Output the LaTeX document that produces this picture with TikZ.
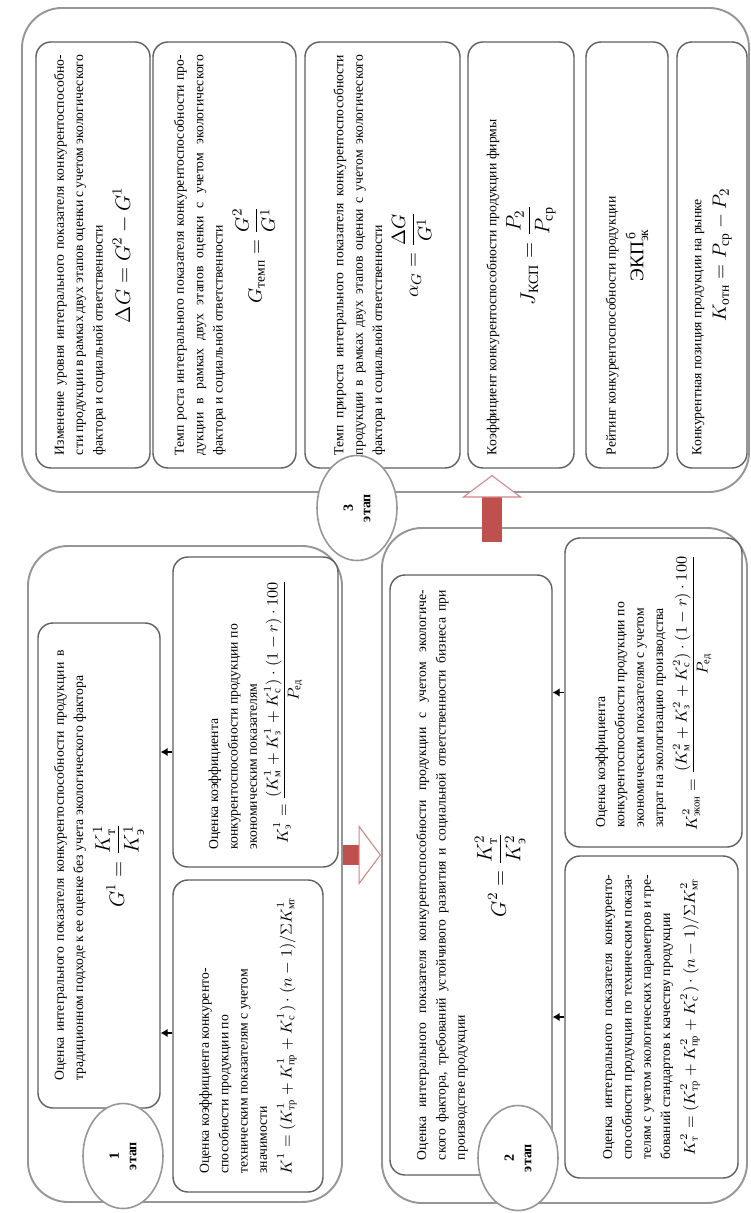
\documentclass[tikz,border=0pt]{standalone}
\usepackage{fontspec}
\setmainfont{Liberation Serif}
\usepackage{amsmath}
\usepackage{tikz}
\usetikzlibrary{arrows.meta, shapes.geometric, calc}
\definecolor{etred}{RGB}{192,80,77}
\definecolor{etgris}{RGB}{150,150,150}
\definecolor{etcard}{RGB}{95,95,95}
\hyphenation{кон-ку-рен-то-спо-соб-но-сти ин-те-граль-но-го по-ка-за-те-ля эко-ло-ги-че-ско-го
  эко-ло-ги-че-ских про-дук-ции по-ка-за-те-лям тре-бо-ва-ний стан-дар-тов}
\newcommand{\fml}[2][11]{\par\smallskip\hbox to\linewidth{\hss\fontsize{#1}{#1}\selectfont$\displaystyle #2$\hss}}

\begin{document}
\begin{tikzpicture}[x=1cm, y=-1cm,
  font=\fontsize{7.8}{11}\selectfont,
  stage/.style={rectangle, rounded corners=0.8cm, draw=etgris, line width=1.1pt},
  card/.style={rectangle, rounded corners=0.3cm, draw=etcard, line width=0.8pt, fill=white,
               rotate=90, align=justify, inner sep=0pt},
  badge/.style={ellipse, draw=etgris, line width=0.9pt, fill=white, rotate=90,
                minimum width=2.1cm, minimum height=1.6cm, align=center,
                font=\bfseries\fontsize{8}{10}\selectfont},
  link/.style={-{Latex[length=4pt, width=5pt]}, line width=0.8pt, black},
  flow/.style={line width=11pt, draw=etred,
               -{Triangle[length=0.45cm, width=1.2cm, line width=0.6pt, color=etred!70, fill=white]}}]

  \useasboundingbox (0,0) rectangle (15.02,24.26);

  % stage frames
  \node[stage, minimum width=14.54cm, minimum height=9.68cm] (st3) at (7.71,5.0) {};
  \node[stage, minimum width=6.28cm, minimum height=13.12cm] (st1) at (3.70,17.48) {};
  \node[stage, minimum width=7.30cm, minimum height=13.50cm] (st2) at (11.29,17.31) {};

  % stage 3 (cards are turned: north = left, south = right)
  \node[card, minimum width=8.52cm, minimum height=2.28cm, text width=8cm] (b31) at (1.86,5.1)
    {Изменение уровня интегрального показателя конкурентоспособности продукции в рамках двух этапов оценки с учетом экологического фактора и социальной ответственности
     \fml[12]{\Delta G = G^2 - G^1}};
  \node[card, minimum width=8.52cm, minimum height=2.86cm, text width=8cm] (b32) at (4.49,5.1)
    {Темп роста интегрального показателя конкурентоспособности продукции в рамках двух этапов оценки с учетом экологического фактора и социальной ответственности
     \fml{G_{\text{темп}} = \frac{G^2}{G^1}}};
  \node[card, minimum width=8.52cm, minimum height=3.10cm, text width=8cm] (b33) at (7.65,5.1)
    {Темп прироста интегрального показателя конкурентоспособности продукции в рамках двух этапов оценки с учетом экологического фактора и социальной ответственности
     \fml{\alpha_G = \frac{\Delta G}{G^1}}};
  \node[card, minimum width=8.52cm, minimum height=2.12cm, text width=8cm] (b34) at (10.42,5.1)
    {Коэффициент конкурентоспособности продукции фирмы
     \fml[12]{J_{\text{КСП}} = \frac{P_2}{P_{\text{ср}}}}};
  \node[card, minimum width=8.52cm, minimum height=1.64cm, text width=8cm] (b35) at (12.54,5.1)
    {Рейтинг конкурентоспособности продукции
     \fml{\text{ЭКП}^{\,\text{б}}_{\text{эк}}}};
  \node[card, minimum width=8.52cm, minimum height=1.40cm, text width=8cm] (b36) at (14.24,5.1)
    {Конкурентная позиция продукции на рынке
     \fml{K_{\text{отн}} = P_{\text{ср}} - P_2}};

  % stage 1
  \node[card, minimum width=9.70cm, minimum height=2.44cm, text width=8.6cm] (g1) at (1.98,17.31)
    {Оценка интегрального показателя конкурентоспособности продукции в традиционном подходе к ее оценке без учета экологического фактора
     \fml[12]{G^1 = \frac{K^1_{\text{т}}}{K^1_{\text{э}}}}};
  \node[card, minimum width=6.20cm, minimum height=3.30cm, text width=5.5cm] (s1e) at (5.11,14.24)
    {Оценка коэффициента\\ конкурентоспособности продукции по\\ экономическим показателям
     \fml[9]{K^1_{\text{э}} = \frac{(K^1_{\text{м}} + K^1_{\text{з}} + K^1_{\text{с}})\cdot(1-r)\cdot 100}{P_{\text{ед}}}}};
  \node[card, minimum width=6.24cm, minimum height=3.00cm, text width=5.5cm] (s1t) at (4.96,20.72)
    {Оценка коэффициента конкуренто-\\ способности продукции по\\ техническим показателям с учетом\\ значимости
     \fml[9]{K^1 = (K^1_{\text{тр}} + K^1_{\text{пр}} + K^1_{\text{с}})\cdot(n-1)/\Sigma K^1_{\text{мт}}}};

  % stage 2
  \node[card, minimum width=12.0cm, minimum height=3.24cm, text width=11.4cm] (g2) at (9.42,17.5)
    {Оценка интегрального показателя конкурентоспособности продукции с учетом экологического фактора, требований устойчивого развития и социальной ответственности бизнеса при производстве продукции
     \fml[12]{G^2 = \frac{K^2_{\text{т}}}{K^2_{\text{э}}}}};
  \node[card, minimum width=6.18cm, minimum height=3.54cm, text width=5.4cm] (s2e) at (13.07,13.85)
    {Оценка коэффициента\\ конкурентоспособности продукции по\\ экономическим показателям с учетом\\ затрат на экологизацию производства
     \fml[9]{K^2_{\text{экон}} = \frac{(K^2_{\text{м}} + K^2_{\text{з}} + K^2_{\text{с}})\cdot(1-r)\cdot 100}{P_{\text{ед}}}}};
  \node[card, minimum width=6.44cm, minimum height=3.46cm, text width=5.7cm] (s2t) at (13.03,20.34)
    {Оценка интегрального показателя конкурентоспособности продукции по техническим показателям с учетом экологических параметров и требований стандартов к качеству продукции
     \fml[9]{K^2_{\text{т}} = (K^2_{\text{тр}} + K^2_{\text{пр}} + K^2_{\text{с}})\cdot(n-1)/\Sigma K^2_{\text{мт}}}};

  \draw[link] (s1e.north |- 0,15.04) -- (g1.south |- 0,15.04);
  \draw[link] (s1t.north |- 0,20.66) -- (g1.south |- 0,20.66);
  \draw[link] (s2e.north) -- (g2.south |- s2e.north);
  \draw[link] (s2t.north) -- (g2.south |- s2t.north);

  \node[badge] (c1) at (2.46,23.12) {1\\ этап};
  \node[badge] (c2) at (10.36,23.16) {2\\ этап};
  \node[badge] (c3) at (7.14,10.16) {3\\ этап};

  \draw[flow] (st1.east |- 0,17.1) -- (st2.west |- 0,17.1);
  \draw[flow] ($(9.84,0 |- st2.north)+(0,0.3)$) -- (9.84,9.5);
\end{tikzpicture}
\end{document}
